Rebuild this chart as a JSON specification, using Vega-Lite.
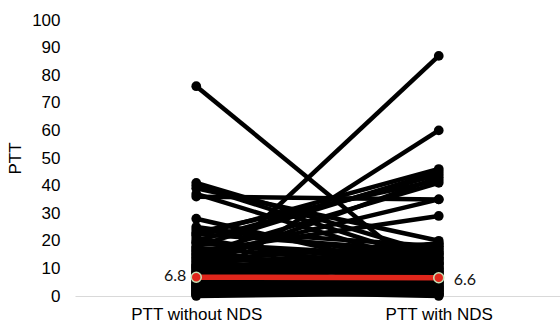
{
  "$schema": "https://vega.github.io/schema/vega-lite/v6.json",
  "width": 485,
  "height": 276,
  "autosize": "none",
  "padding": {"left": 75, "top": 20, "right": 0, "bottom": 31},
  "background": "white",
  "config": {"view": {"stroke": null}},
  "datasets": {
    "pairs": [
      {"id": 1, "group": "PTT without NDS", "value": 76}, {"id": 1, "group": "PTT with NDS", "value": 4},
      {"id": 2, "group": "PTT without NDS", "value": 5}, {"id": 2, "group": "PTT with NDS", "value": 87},
      {"id": 3, "group": "PTT without NDS", "value": 4}, {"id": 3, "group": "PTT with NDS", "value": 60},
      {"id": 4, "group": "PTT without NDS", "value": 41}, {"id": 4, "group": "PTT with NDS", "value": 15},
      {"id": 5, "group": "PTT without NDS", "value": 40}, {"id": 5, "group": "PTT with NDS", "value": 12},
      {"id": 6, "group": "PTT without NDS", "value": 39}, {"id": 6, "group": "PTT with NDS", "value": 20},
      {"id": 7, "group": "PTT without NDS", "value": 37}, {"id": 7, "group": "PTT with NDS", "value": 10},
      {"id": 8, "group": "PTT without NDS", "value": 36}, {"id": 8, "group": "PTT with NDS", "value": 35},
      {"id": 9, "group": "PTT without NDS", "value": 28}, {"id": 9, "group": "PTT with NDS", "value": 8},
      {"id": 10, "group": "PTT without NDS", "value": 24}, {"id": 10, "group": "PTT with NDS", "value": 18},
      {"id": 11, "group": "PTT without NDS", "value": 23}, {"id": 11, "group": "PTT with NDS", "value": 42},
      {"id": 12, "group": "PTT without NDS", "value": 22}, {"id": 12, "group": "PTT with NDS", "value": 46},
      {"id": 13, "group": "PTT without NDS", "value": 21}, {"id": 13, "group": "PTT with NDS", "value": 6},
      {"id": 14, "group": "PTT without NDS", "value": 20}, {"id": 14, "group": "PTT with NDS", "value": 44},
      {"id": 15, "group": "PTT without NDS", "value": 19}, {"id": 15, "group": "PTT with NDS", "value": 14},
      {"id": 16, "group": "PTT without NDS", "value": 18}, {"id": 16, "group": "PTT with NDS", "value": 45},
      {"id": 17, "group": "PTT without NDS", "value": 17}, {"id": 17, "group": "PTT with NDS", "value": 3},
      {"id": 18, "group": "PTT without NDS", "value": 16}, {"id": 18, "group": "PTT with NDS", "value": 29},
      {"id": 19, "group": "PTT without NDS", "value": 15}, {"id": 19, "group": "PTT with NDS", "value": 41},
      {"id": 20, "group": "PTT without NDS", "value": 14}, {"id": 20, "group": "PTT with NDS", "value": 35},
      {"id": 21, "group": "PTT without NDS", "value": 13}, {"id": 21, "group": "PTT with NDS", "value": 19},
      {"id": 22, "group": "PTT without NDS", "value": 12}, {"id": 22, "group": "PTT with NDS", "value": 9},
      {"id": 23, "group": "PTT without NDS", "value": 11}, {"id": 23, "group": "PTT with NDS", "value": 43},
      {"id": 24, "group": "PTT without NDS", "value": 10}, {"id": 24, "group": "PTT with NDS", "value": 17},
      {"id": 25, "group": "PTT without NDS", "value": 9}, {"id": 25, "group": "PTT with NDS", "value": 16},
      {"id": 26, "group": "PTT without NDS", "value": 8}, {"id": 26, "group": "PTT with NDS", "value": 12},
      {"id": 27, "group": "PTT without NDS", "value": 7}, {"id": 27, "group": "PTT with NDS", "value": 5},
      {"id": 28, "group": "PTT without NDS", "value": 6}, {"id": 28, "group": "PTT with NDS", "value": 2},
      {"id": 29, "group": "PTT without NDS", "value": 5.5}, {"id": 29, "group": "PTT with NDS", "value": 11},
      {"id": 30, "group": "PTT without NDS", "value": 5}, {"id": 30, "group": "PTT with NDS", "value": 7},
      {"id": 31, "group": "PTT without NDS", "value": 4.5}, {"id": 31, "group": "PTT with NDS", "value": 8},
      {"id": 32, "group": "PTT without NDS", "value": 4}, {"id": 32, "group": "PTT with NDS", "value": 1},
      {"id": 33, "group": "PTT without NDS", "value": 3.5}, {"id": 33, "group": "PTT with NDS", "value": 13},
      {"id": 34, "group": "PTT without NDS", "value": 3}, {"id": 34, "group": "PTT with NDS", "value": 6},
      {"id": 35, "group": "PTT without NDS", "value": 2.5}, {"id": 35, "group": "PTT with NDS", "value": 4},
      {"id": 36, "group": "PTT without NDS", "value": 2}, {"id": 36, "group": "PTT with NDS", "value": 10},
      {"id": 37, "group": "PTT without NDS", "value": 1.5}, {"id": 37, "group": "PTT with NDS", "value": 3},
      {"id": 38, "group": "PTT without NDS", "value": 1}, {"id": 38, "group": "PTT with NDS", "value": 0.5},
      {"id": 39, "group": "PTT without NDS", "value": 0.5}, {"id": 39, "group": "PTT with NDS", "value": 2},
      {"id": 40, "group": "PTT without NDS", "value": 0}, {"id": 40, "group": "PTT with NDS", "value": 1},
      {"id": 41, "group": "PTT without NDS", "value": 12.5}, {"id": 41, "group": "PTT with NDS", "value": 15},
      {"id": 42, "group": "PTT without NDS", "value": 11.5}, {"id": 42, "group": "PTT with NDS", "value": 6.5},
      {"id": 43, "group": "PTT without NDS", "value": 10.5}, {"id": 43, "group": "PTT with NDS", "value": 3.5},
      {"id": 44, "group": "PTT without NDS", "value": 9.5}, {"id": 44, "group": "PTT with NDS", "value": 14},
      {"id": 45, "group": "PTT without NDS", "value": 8.5}, {"id": 45, "group": "PTT with NDS", "value": 19},
      {"id": 46, "group": "PTT without NDS", "value": 7.5}, {"id": 46, "group": "PTT with NDS", "value": 9.5},
      {"id": 47, "group": "PTT without NDS", "value": 6.8}, {"id": 47, "group": "PTT with NDS", "value": 6.6},
      {"id": 48, "group": "PTT without NDS", "value": 6.2}, {"id": 48, "group": "PTT with NDS", "value": 12},
      {"id": 49, "group": "PTT without NDS", "value": 3.2}, {"id": 49, "group": "PTT with NDS", "value": 17},
      {"id": 50, "group": "PTT without NDS", "value": 2.2}, {"id": 50, "group": "PTT with NDS", "value": 5.5},
      {"id": 51, "group": "PTT without NDS", "value": 1.2}, {"id": 51, "group": "PTT with NDS", "value": 8.5},
      {"id": 52, "group": "PTT without NDS", "value": 16.5}, {"id": 52, "group": "PTT with NDS", "value": 2.5},
      {"id": 53, "group": "PTT without NDS", "value": 14.5}, {"id": 53, "group": "PTT with NDS", "value": 7.5},
      {"id": 54, "group": "PTT without NDS", "value": 13.5}, {"id": 54, "group": "PTT with NDS", "value": 1.5},
      {"id": 55, "group": "PTT without NDS", "value": 19.5}, {"id": 55, "group": "PTT with NDS", "value": 11.5},
      {"id": 56, "group": "PTT without NDS", "value": 22.5}, {"id": 56, "group": "PTT with NDS", "value": 16},
      {"id": 57, "group": "PTT without NDS", "value": 25}, {"id": 57, "group": "PTT with NDS", "value": 13},
      {"id": 58, "group": "PTT without NDS", "value": 0.8}, {"id": 58, "group": "PTT with NDS", "value": 4.5},
      {"id": 59, "group": "PTT without NDS", "value": 1.8}, {"id": 59, "group": "PTT with NDS", "value": 0},
      {"id": 60, "group": "PTT without NDS", "value": 2.8}, {"id": 60, "group": "PTT with NDS", "value": 18},
      {"id": 61, "group": "PTT without NDS", "value": 4.2}, {"id": 61, "group": "PTT with NDS", "value": 9},
      {"id": 62, "group": "PTT without NDS", "value": 8.2}, {"id": 62, "group": "PTT with NDS", "value": 3},
      {"id": 63, "group": "PTT without NDS", "value": 10.2}, {"id": 63, "group": "PTT with NDS", "value": 0.8},
      {"id": 64, "group": "PTT without NDS", "value": 15.5}, {"id": 64, "group": "PTT with NDS", "value": 5},
      {"id": 65, "group": "PTT without NDS", "value": 17.5}, {"id": 65, "group": "PTT with NDS", "value": 10.5},
      {"id": 66, "group": "PTT without NDS", "value": 0.3}, {"id": 66, "group": "PTT with NDS", "value": 7},
      {"id": 67, "group": "PTT without NDS", "value": 11}, {"id": 67, "group": "PTT with NDS", "value": 2},
      {"id": 68, "group": "PTT without NDS", "value": 7}, {"id": 68, "group": "PTT with NDS", "value": 13.5},
      {"id": 69, "group": "PTT without NDS", "value": 9}, {"id": 69, "group": "PTT with NDS", "value": 0.3},
      {"id": 70, "group": "PTT without NDS", "value": 3.8}, {"id": 70, "group": "PTT with NDS", "value": 15.5}
    ],
    "median": [
      {"group": "PTT without NDS", "value": 6.8, "label": "6.8"},
      {"group": "PTT with NDS", "value": 6.6, "label": "6.6"}
    ]
  },
  "encoding": {
    "x": {
      "field": "group", "type": "nominal",
      "sort": ["PTT without NDS", "PTT with NDS"],
      "scale": {"type": "point", "padding": 0.5},
      "axis": {
        "title": null, "labelAngle": 0, "ticks": false, "grid": false,
        "domainColor": "#d9d9d9", "domainWidth": 1,
        "labelFont": "Liberation Sans", "labelFontSize": 17, "labelColor": "#000",
        "labelPadding": 10
      }
    },
    "y": {
      "field": "value", "type": "quantitative",
      "scale": {"domain": [0, 100], "nice": false},
      "axis": {
        "title": "PTT", "values": [0, 10, 20, 30, 40, 50, 60, 70, 80, 90, 100],
        "domain": false, "ticks": false, "grid": false,
        "labelFont": "Liberation Sans", "labelFontSize": 17, "labelColor": "#000",
        "labelPadding": 15,
        "titleFont": "Liberation Sans", "titleFontSize": 17, "titleFontWeight": "normal",
        "titleColor": "#000", "titlePadding": 7
      }
    }
  },
  "layer": [
    {
      "data": {"name": "pairs"},
      "mark": {"type": "line", "color": "black", "strokeWidth": 4.5},
      "encoding": {"detail": {"field": "id"}}
    },
    {
      "data": {"name": "pairs"},
      "mark": {"type": "point", "filled": true, "color": "black", "size": 95, "opacity": 1}
    },
    {
      "data": {"name": "median"},
      "mark": {"type": "line", "color": "#e0261b", "strokeWidth": 5.5},
      "encoding": {}
    },
    {
      "data": {"name": "median"},
      "mark": {"type": "point", "filled": true, "fill": "#e0261b", "stroke": "#c5e0b4", "strokeWidth": 1.5, "size": 100, "opacity": 1}
    },
    {
      "data": {"name": "median"},
      "transform": [{"filter": "datum.group === 'PTT without NDS'"}],
      "mark": {"type": "text", "align": "right", "dx": -10, "dy": -1, "font": "Lato", "fontSize": 16, "color": "#111"},
      "encoding": {"text": {"field": "label"}}
    },
    {
      "data": {"name": "median"},
      "transform": [{"filter": "datum.group === 'PTT with NDS'"}],
      "mark": {"type": "text", "align": "left", "dx": 15, "dy": 2, "font": "Lato", "fontSize": 16, "color": "#111"},
      "encoding": {"text": {"field": "label"}}
    }
  ]
}
